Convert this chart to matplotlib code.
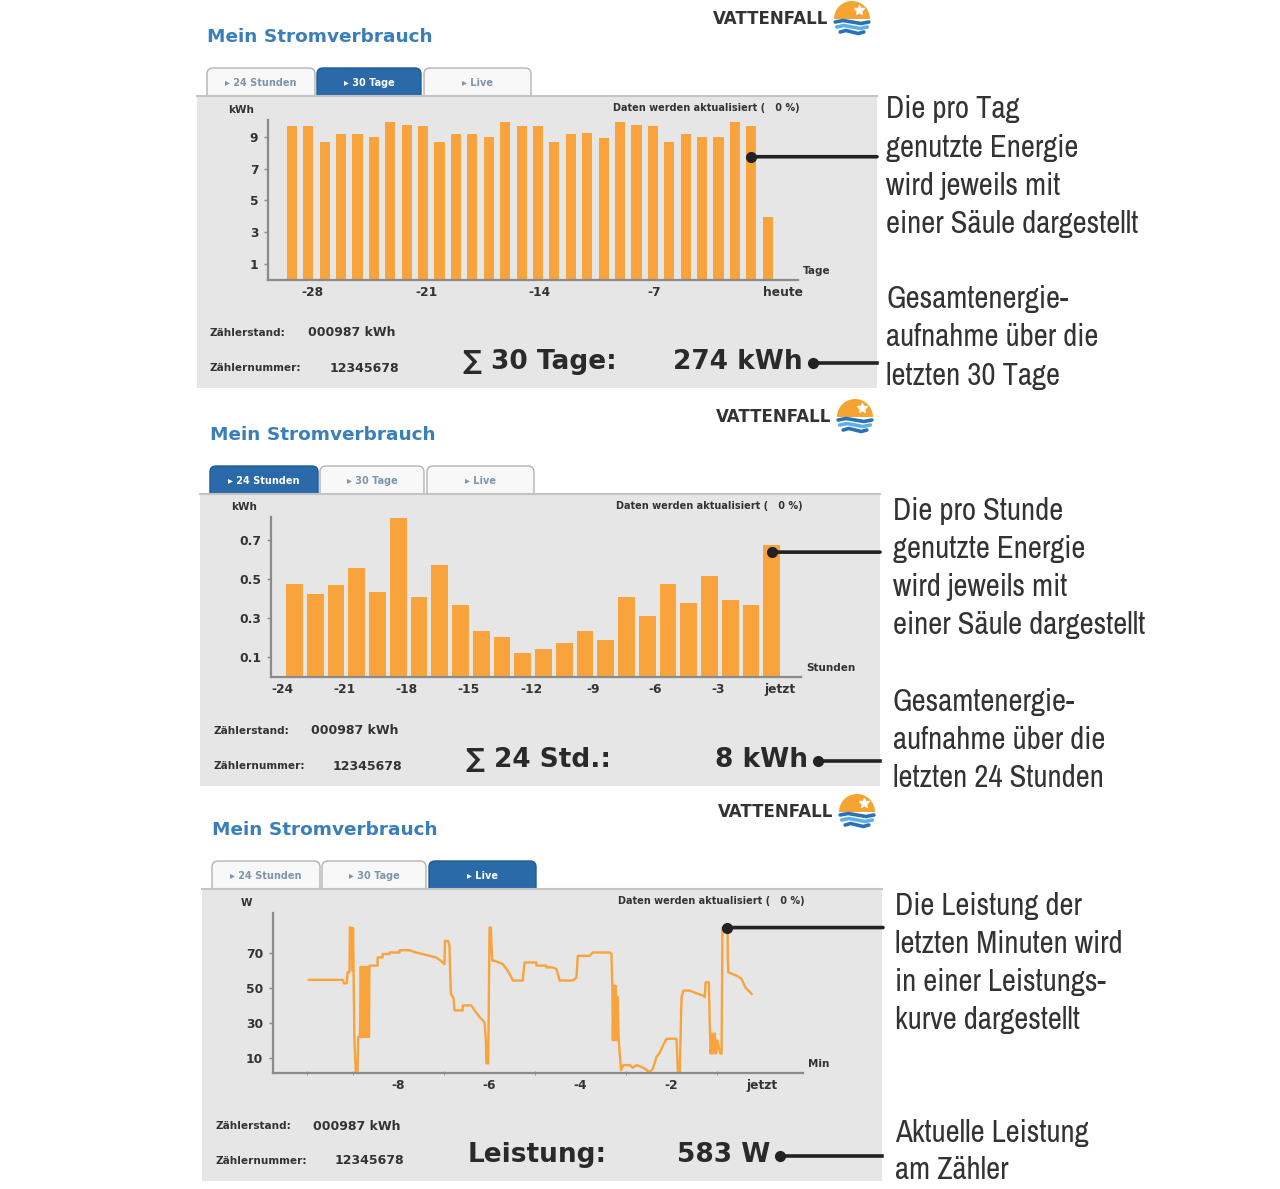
import numpy as np
import matplotlib
matplotlib.use("Agg")
import matplotlib.pyplot as plt
from matplotlib import font_manager as fm
from matplotlib.patches import Rectangle, FancyBboxPatch, Wedge
from matplotlib.transforms import blended_transform_factory

# ---- data ----
# 30 Tage: kWh per day, oldest first, last bar = today
tage = np.arange(-29, 1)
tage_kwh = [9.69, 9.69, 8.67, 9.19, 9.19, 8.98, 9.92, 9.75, 9.69, 8.67,
            9.20, 9.19, 8.98, 9.95, 9.69, 9.69, 8.67, 9.19, 9.27, 8.93,
            9.92, 9.75, 9.69, 8.67, 9.20, 8.98, 9.00, 9.92, 9.69, 3.98]
tage_ticklabels = ["-28", "-21", "-14", "-7", "heute"]
tage_tick_pos = [-27.75, -20.8, -13.9, -6.9, 0.95]

# 24 Stunden: kWh per hour
stunden = np.arange(-24, 0)
stunden_kwh = [0.477, 0.423, 0.470, 0.561, 0.437, 0.814, 0.410, 0.574,
               0.370, 0.236, 0.206, 0.125, 0.142, 0.175, 0.236, 0.192,
               0.410, 0.313, 0.477, 0.380, 0.518, 0.393, 0.370, 0.675]
stunden_ticks = [-24, -21, -18, -15, -12, -9, -6, -3, 0]
stunden_ticklabels = ["-24", "-21", "-18", "-15", "-12", "-9", "-6", "-3", "jetzt"]

# Live: power curve (minutes, W)
live_min = [-9.96, -9.22, -9.19, -9.13, -9.11, -9.07, -9.06, -9.02, -9.01, -8.99,
            -8.96, -8.93, -8.89, -8.88, -8.84, -8.82, -8.80, -8.78, -8.76, -8.74,
            -8.72, -8.70, -8.68, -8.66, -8.64, -8.63, -8.45, -8.45, -8.34, -8.34,
            -8.19, -8.19, -7.97, -7.97, -7.75, -7.61, -7.46, -7.31, -7.17, -7.06,
            -6.98, -6.97, -6.90, -6.87, -6.86, -6.84, -6.78, -6.76, -6.58, -6.58,
            -6.39, -6.32, -6.21, -6.10, -6.07, -6.06, -6.02, -6.00, -5.99, -5.96,
            -5.95, -5.93, -5.88, -5.70, -5.59, -5.51, -5.48, -5.26, -5.22, -4.96,
            -4.96, -4.74, -4.74, -4.60, -4.52, -4.45, -4.16, -4.08, -4.05, -3.79,
            -3.72, -3.35, -3.31, -3.29, -3.28, -3.26, -3.24, -3.22, -3.20, -3.18,
            -3.15, -3.10, -3.05, -2.90, -2.85, -2.75, -2.61, -2.47, -2.40, -2.32,
            -2.25, -2.18, -2.10, -1.88, -1.85, -1.81, -1.77, -1.73, -1.59, -1.45,
            -1.29, -1.26, -1.24, -1.17, -1.15, -1.13, -1.10, -1.07, -1.04, -1.01,
            -0.98, -0.92, -0.89, -0.87, -0.76, -0.75, -0.74, -0.56, -0.45, -0.37,
            -0.23]
live_w = [54.6, 54.6, 52.6, 52.6, 58.9, 58.9, 84.4, 84.4, 60.0, 84.0,
          20.0, 1.5, 1.5, 22.0, 22.0, 62.0, 22.0, 62.0, 22.0, 62.0,
          22.0, 62.0, 22.0, 62.0, 22.0, 62.7, 62.7, 67.4, 67.4, 69.3,
          69.3, 70.2, 70.2, 71.5, 71.5, 70.2, 69.3, 68.3, 67.4, 65.5,
          63.6, 76.8, 76.8, 74.0, 63.0, 46.6, 44.0, 37.2, 37.2, 40.0,
          40.0, 37.2, 33.4, 30.5, 20.0, 7.0, 7.0, 60.0, 84.4, 84.4,
          75.0, 65.5, 65.5, 63.6, 59.8, 56.0, 54.2, 54.2, 64.5, 64.5,
          62.7, 62.7, 61.7, 61.7, 60.8, 54.2, 54.2, 56.0, 68.3, 68.3,
          70.2, 70.2, 69.3, 50.0, 20.2, 51.3, 20.2, 51.3, 20.2, 45.0,
          20.0, 3.2, 6.0, 6.0, 4.5, 6.0, 4.5, 2.0, 4.0, 10.7,
          13.0, 17.0, 21.0, 21.0, 2.0, 1.5, 44.7, 48.5, 48.5, 47.0,
          45.6, 44.7, 53.2, 53.2, 30.0, 12.6, 24.0, 12.6, 24.0, 12.6,
          20.0, 12.6, 12.6, 84.4, 84.4, 65.0, 58.9, 57.0, 55.1, 50.4,
          46.6]
live_ticks = [-8, -6, -4, -2, 0]
live_ticklabels = ["-8", "-6", "-4", "-2", "jetzt"]

W, H = 1280, 1189
ORANGE = "#f8a33b"
BLUE = "#3a7fb9"
TXT = "#333333"

# a narrow face for the callout texts, if one is installed
narrow_file = None
for f in fm.fontManager.ttflist:
    if f.style != "normal" or f.weight not in (400, "normal", "regular"):
        continue
    if "Narrow" in f.name or "Condensed" in f.name or f.stretch in ("condensed", "semi-condensed"):
        narrow_file = f.fname
        if "Narrow" in f.name:
            break
if narrow_file:
    NOTE_FP = fm.FontProperties(fname=narrow_file)
else:
    NOTE_FP = fm.FontProperties(family="DejaVu Sans")

fig = plt.figure(figsize=(W / 100, H / 100), dpi=100)
bg = fig.add_axes([0, 0, 1, 1])
bg.set_xlim(0, W)
bg.set_ylim(H, 0)
bg.axis("off")
renderer = fig.canvas.get_renderer()

# size the callout font so the longest line is as wide as in the screenshot
probe = bg.text(0, 0, "einer Säule dargestellt", fontproperties=NOTE_FP, fontsize=20)
probe_w = probe.get_window_extent(renderer).width
probe.remove()
NOTE_SIZE = min(22.5, 20 * 253 / probe_w)


def logo(cx, cy, r=18):
    bg.add_patch(Wedge((cx, cy), r, 180, 360, facecolor="#f5a331", edgecolor="none"))
    bg.plot(cx + 7, cy - 9, marker="*", color="white", ms=7)
    for off, col in [(3, "#2a72b8"), (8, "#5fb0e3"), (13, "#2a72b8")]:
        half = np.sqrt(r ** 2 - off ** 2)
        xs = cx + np.array([-0.95, -0.5, 0, 0.5, 0.95]) * half
        ys = cy + off + np.array([0, -1.5, 0, 1.5, 0])
        bg.plot(xs, ys, color=col, lw=2.6, solid_capstyle="round")


def frame(dx, dy, active, summary, value, value_x):
    bg.text(207 + dx, 37 + dy, "Mein Stromverbrauch", color=BLUE, fontsize=13.3,
            fontweight="bold", va="center", ha="left")
    bg.text(828 + dx, 19 + dy, "VATTENFALL", color="#333", fontsize=12,
            fontweight="bold", va="center", ha="right")
    logo(852 + dx, 19 + dy)
    tabs = ["\u25b8 24 Stunden", "\u25b8 30 Tage", "\u25b8 Live"]
    tab_x = [207, 317, 424]
    tab_w = [108, 104, 107]
    for i, (lab, x0, w) in enumerate(zip(tabs, tab_x, tab_w)):
        on = i == active
        bg.add_patch(FancyBboxPatch((x0 + dx, 68 + dy), w, 34,
                                    boxstyle="round,pad=0,rounding_size=6",
                                    facecolor="#2a6aa9" if on else "#f8f8f8",
                                    edgecolor="#1f5a94" if on else "#b3b3b3", lw=1))
        bg.text(x0 + dx + w / 2, 83 + dy, lab, fontsize=7, fontweight="bold",
                color="white" if on else "#7d95ad", ha="center", va="center")
    bg.add_patch(Rectangle((197 + dx, 95 + dy), 680, 293, facecolor="#e6e6e6",
                           edgecolor="none"))
    bg.plot([197 + dx, 877 + dx], [95.5 + dy, 95.5 + dy], color="#c4c4c4", lw=1.5)
    bg.text(800 + dx, 108 + dy, "Daten werden aktualisiert (   0 %)", fontsize=7,
            fontweight="bold", color=TXT, ha="right", va="center")
    bg.text(210 + dx, 333 + dy, "Zählerstand:", fontsize=7.6, fontweight="bold",
            color=TXT, va="center")
    bg.text(308 + dx, 333 + dy, "000987 kWh", fontsize=9, fontweight="bold",
            color=TXT, va="center")
    bg.text(210 + dx, 368 + dy, "Zählernummer:", fontsize=7.6, fontweight="bold",
            color=TXT, va="center")
    bg.text(330 + dx, 368 + dy, "12345678", fontsize=9, fontweight="bold",
            color=TXT, va="center")
    bg.text(463 + dx, 362 + dy, summary, fontsize=19, fontweight="bold",
            color="#2a2a2a", va="center")
    bg.text(value_x + dx, 362 + dy, value, fontsize=19, fontweight="bold",
            color="#2a2a2a", va="center", ha="right")
    bg.plot([value_x + 10 + dx, 877 + dx], [363 + dy, 363 + dy], color="#222", lw=2.6)
    bg.plot(value_x + 10 + dx, 363 + dy, "o", color="#222", ms=7)


def chart(dx, dy, unit, xunit):
    l, r, t, b = 268 + dx, 798 + dx, 120 + dy, 280 + dy
    ax = fig.add_axes([l / W, 1 - b / H, (r - l) / W, (b - t) / H])
    ax.set_facecolor("none")
    for s in ["top", "right"]:
        ax.spines[s].set_visible(False)
    for s in ["left", "bottom"]:
        ax.spines[s].set_color("#8a8a8a")
        ax.spines[s].set_linewidth(1.6)
    ax.tick_params(axis="y", length=3, width=1, color="#8a8a8a", pad=4,
                   labelsize=8.8, labelcolor=TXT)
    ax.tick_params(axis="x", length=0, pad=4, labelsize=8.8, labelcolor=TXT)
    bg.text(241 + dx, 110 + dy, unit, fontsize=7.5, fontweight="bold", color=TXT,
            ha="center", va="center")
    bg.text(803 + dx, 271 + dy, xunit, fontsize=7.5, fontweight="bold", color=TXT,
            ha="left", va="center")
    return ax


def pointer(ax, x, y, x_end):
    tr = blended_transform_factory(bg.transData, ax.transData)
    ax.annotate("", xy=(x, y), xytext=(x_end, y), textcoords=tr,
                arrowprops=dict(arrowstyle="-", lw=2.6, color="#222",
                                shrinkA=0, shrinkB=0), annotation_clip=False)
    ax.plot([x], [y], "o", color="#222", ms=7, clip_on=False, zorder=5)


def notes(x, baselines, lines):
    for yb, s in zip(baselines, lines):
        bg.text(x, yb, s, fontproperties=NOTE_FP, fontsize=NOTE_SIZE,
                color="#333333", va="baseline", ha="left")


# ---- panel 1: 30 Tage ----
frame(0, 0, 1, "\u2211 30 Tage:", "274 kWh", 803)
ax1 = chart(0, 0, "kWh", "Tage")
ax1.bar(tage, tage_kwh, width=0.62, color=ORANGE)
ax1.set_xlim(-30.46, 1.85)
ax1.set_ylim(0, 10.06)
ax1.set_yticks([1, 3, 5, 7, 9], ["1", "3", "5", "7", "9"], fontweight="bold")
ax1.set_xticks(tage_tick_pos, tage_ticklabels, fontweight="bold")
pointer(ax1, tage[-2], 7.75, 877)
notes(886, [118, 156.5, 195, 233],
      ["Die pro Tag", "genutzte Energie", "wird jeweils mit", "einer Säule dargestellt"])
notes(886, [308, 346.5, 385],
      ["Gesamtenergie-", "aufnahme über die", "letzten 30 Tage"])

# ---- panel 2: 24 Stunden ----
frame(3, 398, 0, "\u2211 24 Std.:", "8 kWh", 805)
ax2 = chart(3, 397, "kWh", "Stunden")
ax2.bar(stunden + 0.6, stunden_kwh, width=0.8, color=ORANGE)
ax2.set_xlim(-24.53, 1.01)
ax2.set_ylim(0, 0.82)
ax2.set_yticks([0.1, 0.3, 0.5, 0.7], ["0.1", "0.3", "0.5", "0.7"], fontweight="bold")
ax2.set_xticks(stunden_ticks, stunden_ticklabels, fontweight="bold")
pointer(ax2, stunden[-1] + 0.6, 0.64, 880)
notes(893, [520, 558, 596, 634],
      ["Die pro Stunde", "genutzte Energie", "wird jeweils mit", "einer Säule dargestellt"])
notes(893, [711, 749, 787],
      ["Gesamtenergie-", "aufnahme über die", "letzten 24 Stunden"])

# ---- panel 3: Live ----
frame(5, 793, 2, "Leistung:", "583 W", 765)
ax3 = chart(5, 793, "W", "Min")
ax3.plot(live_min, live_w, color=ORANGE, lw=1.7)
ax3.set_xlim(-10.75, 0.9)
ax3.set_ylim(1.5, 92.7)
ax3.set_yticks([10, 30, 50, 70], ["10", "30", "50", "70"], fontweight="bold")
ax3.set_xticks(live_ticks, live_ticklabels, fontweight="bold")
ax3.set_xticks(np.arange(-10, 1), minor=True)
ax3.tick_params(axis="x", which="minor", length=3, color="#8a8a8a", direction="inout")
pointer(ax3, live_min[124], live_w[124], 883)
notes(895, [915, 953, 991, 1029],
      ["Die Leistung der", "letzten Minuten wird", "in einer Leistungs-", "kurve dargestellt"])
notes(895, [1142, 1179], ["Aktuelle Leistung", "am Zähler"])

fig.savefig("out.png", dpi=100)
